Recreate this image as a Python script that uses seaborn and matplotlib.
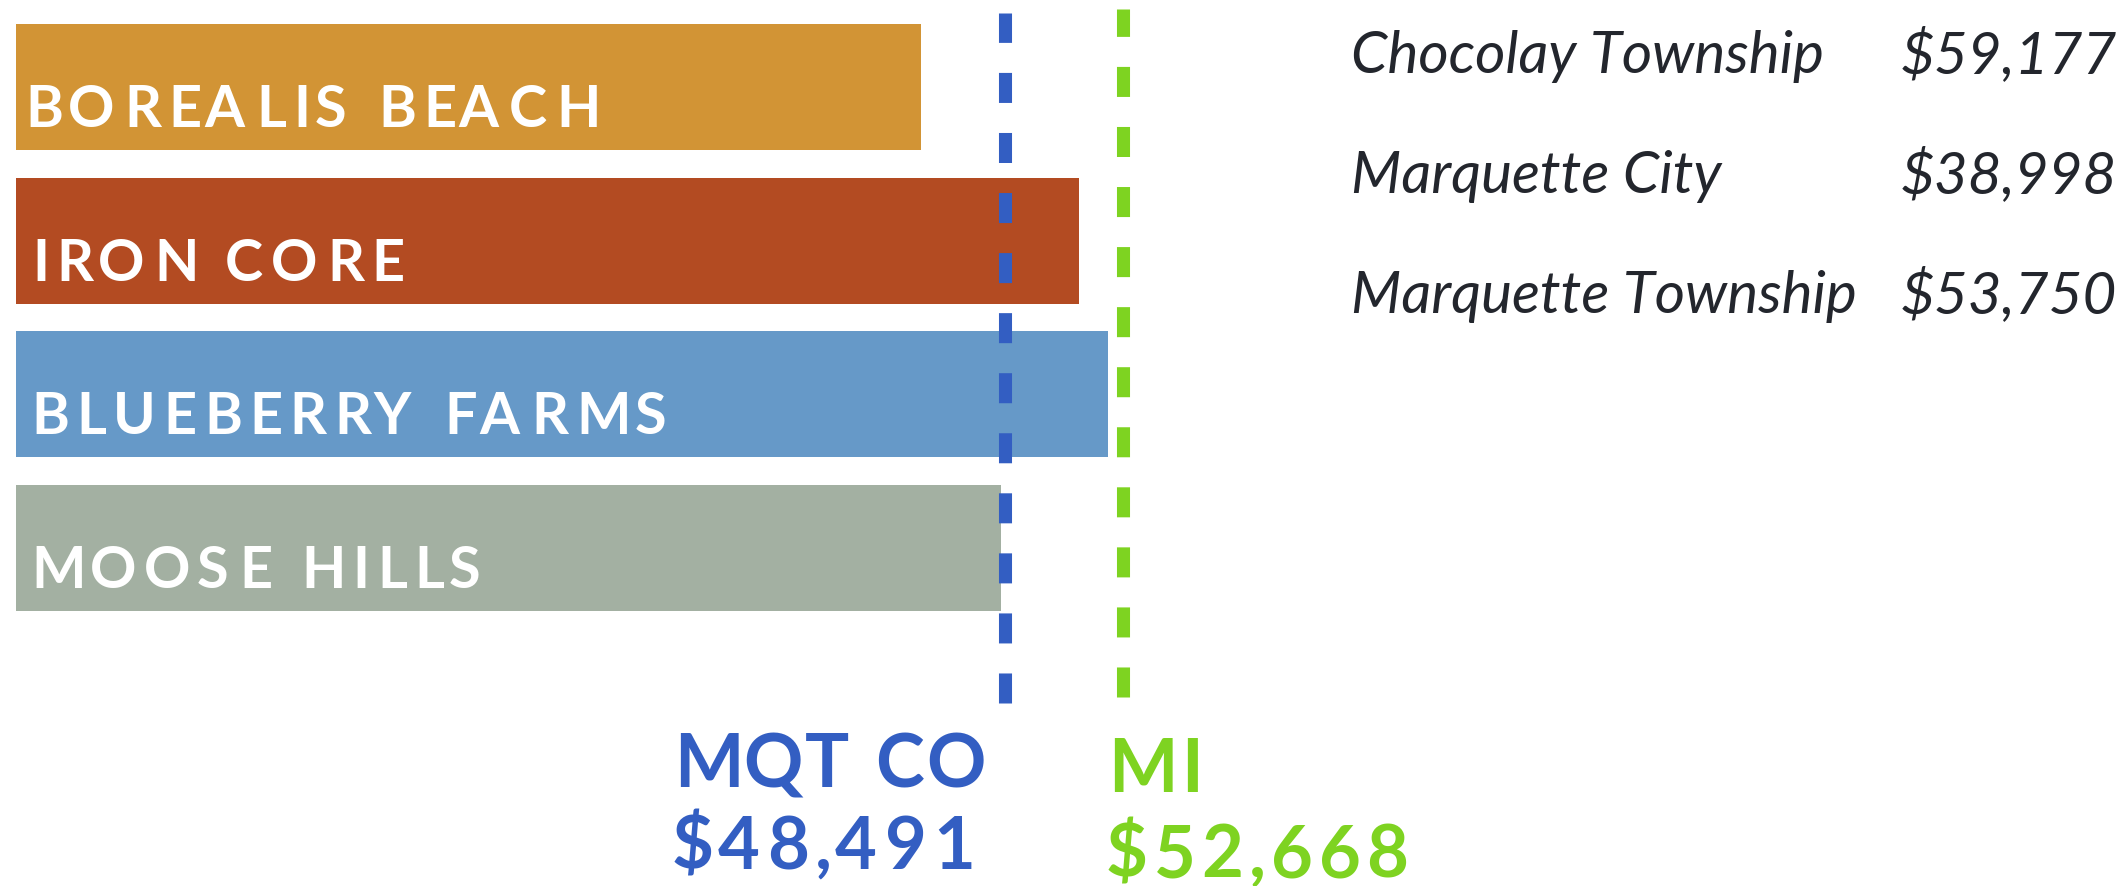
import matplotlib
matplotlib.use("Agg")
import matplotlib.pyplot as plt
import seaborn as sns
from matplotlib.font_manager import FontProperties, findfont, get_font

# data
neighborhoods = ["BOREALIS BEACH", "IRON CORE", "BLUEBERRY FARMS", "MOOSE HILLS"]
incomes = [45500, 51100, 52150, 48350]
bar_colors = ["#D29435", "#B34B22", "#6699C8", "#A3B0A2"]

ref_names = ["MQT CO", "MI"]
ref_values = [48491, 52668]
ref_colors = ["#335EC2", "#7ED321"]

other_places = ["Chocolay Township", "Marquette City", "Marquette Township"]
other_incomes = [59177, 38998, 53750]

sns.set_theme(style="white")
plt.rcParams["font.family"] = ["Lato", "DejaVu Sans"]

W, H = 2124, 886
fig = plt.figure(figsize=(W / 100, H / 100), dpi=100)
ax = fig.add_axes([16 / W, 0, 1 - 16 / W, 1])

sns.barplot(x=incomes, y=neighborhoods, hue=neighborhoods, palette=bar_colors,
            orient="h", width=0.82, linewidth=0, saturation=1, legend=False, ax=ax)
ax.set_xlim(13482, 88101)
ax.set_ylim(5.198, -0.566)
ax.axis("off")

bold = FontProperties(family="Lato", weight="bold")
italic = FontProperties(family="Lato", style="italic")


def tracked(x_px, y_px, s, fp, size, track, color):
    """Draw text char by char to get letter spacing; x_px is the ink left, y_px the baseline from bottom."""
    font = get_font(findfont(fp))
    font.set_size(size, fig.dpi)
    pen = x_px - font.load_char(ord(s[0])).horiBearingX / 64
    for ch in s:
        g = font.load_char(ord(ch))
        if ch != " ":
            fig.text((pen + g.horiBearingX / 64) / W, y_px / H, ch,
                     fontproperties=fp, size=size, color=color,
                     ha="left", va="baseline")
        pen += g.linearHoriAdvance / 65536 + track


# bar labels
label_x = [25, 32, 31, 31]
for i, name in enumerate(neighborhoods):
    y_px = ax.transData.transform((0, i))[1] - 40
    tracked(label_x[i], y_px, name, bold, 41.5, 7.3, "white")

# dashed reference lines + labels
spans = [(0.2065, 0.9853), (0.2133, 0.9898)]
label_dx = [-331, -15]
label_y = [(99, 17), (94, 9)]
for name, val, col, (y0, y1), dx, (ly1, ly2) in zip(ref_names, ref_values, ref_colors,
                                                     spans, label_dx, label_y):
    ax.axvline(val, ymin=y0, ymax=y1, color=col, lw=9.4,
               linestyle=(0, (2.3, 2.3)))
    x_px = ax.transData.transform((val, 0))[0]
    tracked(x_px + dx, ly1, name, bold, 53, 3.2, col)
    tracked(x_px + dx - 2, ly2, f"${val:,}", bold, 52, 5.5, col)

# side table
for i, (place, inc) in enumerate(zip(other_places, other_incomes)):
    y = (H - 73 - 120 * i) / H
    fig.text(1351 / W, y, place, fontproperties=italic, size=42,
             color="#23262D", ha="left", va="baseline")
    fig.text(2117 / W, y, f"${inc:,}", fontproperties=italic, size=42,
             color="#23262D", ha="right", va="baseline")

fig.savefig("out.png", dpi=100, facecolor="white")
